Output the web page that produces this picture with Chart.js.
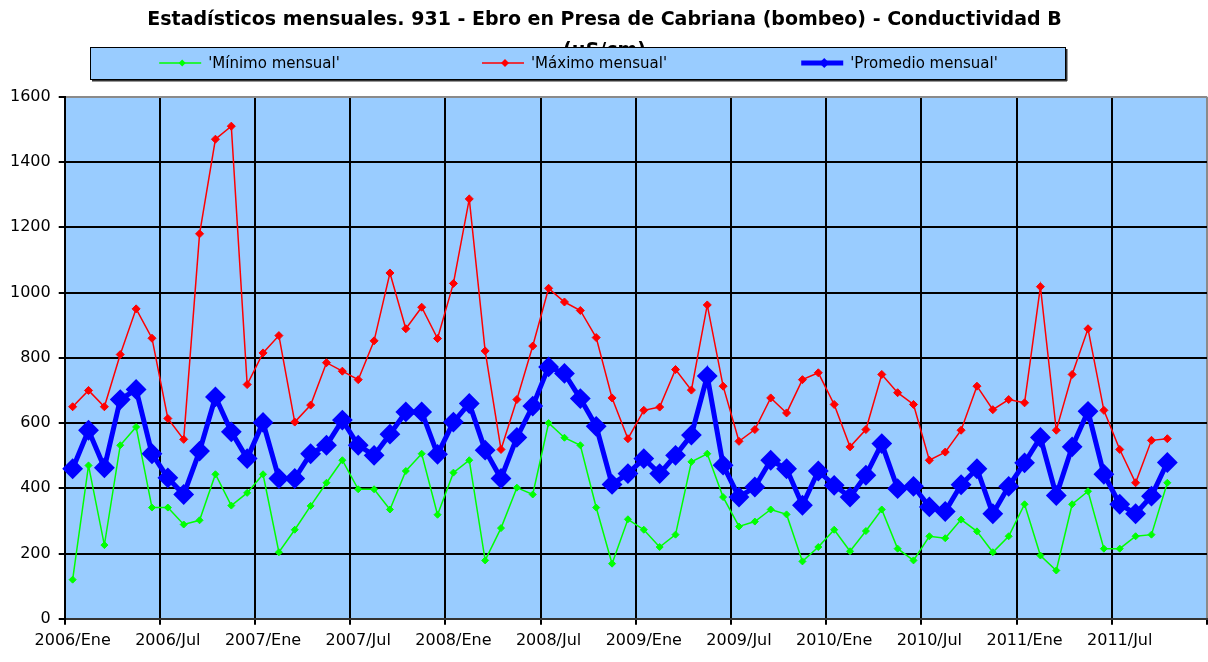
<!DOCTYPE html>
<html>
<head>
<meta charset="utf-8">
<script src="https://cdn.jsdelivr.net/npm/chart.js@4/dist/chart.umd.min.js"></script>
<style>
  html, body { margin: 0; padding: 0; background: #ffffff; }
  canvas { display: block; }
</style>
</head>
<body>
<canvas id="c" width="1208" height="662"></canvas>
<script>
const categories = [
  '2006/Ene','2006/Feb','2006/Mar','2006/Abr','2006/May','2006/Jun','2006/Jul','2006/Ago','2006/Sep','2006/Oct','2006/Nov','2006/Dic',
  '2007/Ene','2007/Feb','2007/Mar','2007/Abr','2007/May','2007/Jun','2007/Jul','2007/Ago','2007/Sep','2007/Oct','2007/Nov','2007/Dic',
  '2008/Ene','2008/Feb','2008/Mar','2008/Abr','2008/May','2008/Jun','2008/Jul','2008/Ago','2008/Sep','2008/Oct','2008/Nov','2008/Dic',
  '2009/Ene','2009/Feb','2009/Mar','2009/Abr','2009/May','2009/Jun','2009/Jul','2009/Ago','2009/Sep','2009/Oct','2009/Nov','2009/Dic',
  '2010/Ene','2010/Feb','2010/Mar','2010/Abr','2010/May','2010/Jun','2010/Jul','2010/Ago','2010/Sep','2010/Oct','2010/Nov','2010/Dic',
  '2011/Ene','2011/Feb','2011/Mar','2011/Abr','2011/May','2011/Jun','2011/Jul','2011/Ago','2011/Sep','2011/Oct','2011/Nov','2011/Dic'
];

const xTickLabels = ['2006/Ene','2006/Jul','2007/Ene','2007/Jul','2008/Ene','2008/Jul','2009/Ene','2009/Jul','2010/Ene','2010/Jul','2011/Ene','2011/Jul'];

const seriesNames = ["'Mínimo mensual'", "'Máximo mensual'", "'Promedio mensual'"];

const minimo = [
  120, 470, 226, 532, 588, 341, 341, 289, 302, 443, 347, 386,
  443, 204, 273, 346, 417, 486, 397, 397, 335, 453, 506, 319,
  448, 486, 179, 278, 402, 381, 600, 555, 532, 341, 169, 305,
  273, 220, 258, 481, 506, 373, 283, 298, 335, 320, 176, 220,
  273, 207, 269, 335, 215, 179, 253, 247, 304, 268, 204, 253,
  351, 194, 148, 351, 391, 215, 215, 253, 258, 417
];

const maximo = [
  650, 700, 650, 810, 950, 860, 614, 550, 1180, 1470, 1510, 718,
  815, 868, 603, 655, 785, 759, 733, 852, 1060, 889, 955, 859,
  1028, 1287, 821, 519, 672, 836, 1013, 971, 945, 862, 677, 552,
  639, 649, 764, 701, 962, 713, 544, 580, 677, 631, 733, 754,
  657, 527, 580, 749, 693, 657, 486, 511, 578, 713, 641, 672,
  662, 1018, 578, 749, 889, 639, 519, 417, 547, 552
];

const promedio = [
  460, 578, 463, 672, 703, 506, 432, 381, 514, 680, 573, 491,
  602, 430, 430, 506, 532, 609, 532, 501, 566, 634, 634, 504,
  603, 660, 517, 430, 556, 652, 772, 752, 675, 590, 412, 445,
  491, 445, 501, 563, 744, 471, 373, 404, 486, 460, 348, 453,
  409, 373, 440, 537, 399, 406, 343, 329, 411, 460, 322, 406,
  478, 556, 378, 527, 636, 443, 351, 322, 376, 479
];

const yMin = 0, yMax = 1600, yStep = 200;

const FONT = "'DejaVu Sans', 'Liberation Sans', sans-serif";

const plotBackground = {
  id: 'plotBackground',
  beforeDraw(chart) {
    const a = chart.chartArea;
    const ctx = chart.ctx;
    ctx.save();
    ctx.fillStyle = '#99CCFF';
    ctx.fillRect(a.left, a.top, a.right - a.left, a.bottom - a.top);
    ctx.restore();
  }
};

const excelLegend = {
  id: 'excelLegend',
  afterDraw(chart) {
    const ctx = chart.ctx;
    const bx = 90, by = 47, bw = 975, bh = 32;
    ctx.save();
    ctx.fillStyle = '#99CCFF';
    ctx.fillRect(bx, by, bw, bh);
    ctx.strokeStyle = '#000';
    ctx.lineWidth = 1;
    ctx.strokeRect(bx + 0.5, by + 0.5, bw, bh);
    ctx.fillStyle = '#333';
    ctx.fillRect(bx + 2, by + bh + 1, bw, 1.5);
    ctx.fillRect(bx + bw + 1, by + 2, 1.5, bh);
    ctx.font = '15px ' + FONT;
    ctx.textBaseline = 'middle';
    const colW = bw / chart.data.datasets.length;
    const cy = by + bh / 2;
    chart.data.datasets.forEach((ds, i) => {
      const lineLen = 42, gap = 7;
      const tw = ctx.measureText(ds.label).width;
      const itemW = lineLen + gap + tw;
      const x0 = bx + colW * i + (colW - itemW) / 2 - 3;
      ctx.strokeStyle = ds.borderColor;
      ctx.lineWidth = ds.borderWidth;
      ctx.beginPath();
      ctx.moveTo(x0, cy);
      ctx.lineTo(x0 + lineLen, cy);
      ctx.stroke();
      ctx.fillStyle = ds.borderColor;
      ctx.beginPath();
      const r = ds.legendMarker;
      const mx = x0 + lineLen / 2 + 2;
      ctx.moveTo(mx, cy - r); ctx.lineTo(mx + r, cy); ctx.lineTo(mx, cy + r); ctx.lineTo(mx - r, cy); ctx.closePath();
      ctx.fill();
      ctx.fillStyle = '#000';
      ctx.textAlign = 'left';
      ctx.fillText(ds.label, x0 + lineLen + gap, cy + 1);
    });
    ctx.restore();
  }
};

new Chart(document.getElementById('c'), {
  type: 'line',
  data: {
    labels: categories,
    datasets: [
      {
        label: seriesNames[0], data: minimo, order: 3,
        borderColor: '#00FF00', backgroundColor: '#00FF00', borderWidth: 1.5,
        pointStyle: 'rectRot', pointRadius: 3.5, pointBorderWidth: 1,
        pointBackgroundColor: '#00FF00', pointBorderColor: '#00FF00',
        tension: 0, fill: false, legendMarker: 3.5
      },
      {
        label: seriesNames[1], data: maximo, order: 2,
        borderColor: '#FF0000', backgroundColor: '#FF0000', borderWidth: 1.5,
        pointStyle: 'rectRot', pointRadius: 4, pointBorderWidth: 1,
        pointBackgroundColor: '#FF0000', pointBorderColor: '#FF0000',
        tension: 0, fill: false, legendMarker: 4
      },
      {
        label: seriesNames[2], data: promedio, order: 1,
        borderColor: '#0000FF', backgroundColor: '#0000FF', borderWidth: 5,
        pointStyle: 'rectRot', pointRadius: 9, pointBorderWidth: 2,
        pointBackgroundColor: '#0000FF', pointBorderColor: '#0000FF',
        tension: 0, fill: false, legendMarker: 5
      }
    ]
  },
  options: {
    responsive: false,
    animation: false,
    devicePixelRatio: 1,
    layout: { autoPadding: false, padding: { left: 2, right: 1, top: 0, bottom: 6 } },
    plugins: {
      legend: { display: false },
      tooltip: { enabled: false },
      title: {
        display: true,
        text: ['Estadísticos mensuales. 931 - Ebro en Presa de Cabriana (bombeo) - Conductividad B', '(µS/cm)'],
        color: '#000',
        font: { family: FONT, size: 19, weight: 'bold', lineHeight: 1.6 },
        padding: { top: 5, bottom: 31 }
      }
    },
    scales: {
      x: {
        type: 'category',
        offset: true,
        afterFit(scale) { scale.paddingRight = 0; },
        grid: {
          offset: true,
          drawOnChartArea: true,
          drawTicks: true,
          tickLength: 6,
          lineWidth: 2,
          color: (c) => (c.index === undefined ? '#8a8a8a' : (c.index % 6 === 0 ? '#000' : 'rgba(0,0,0,0)')),
          tickColor: (c) => (c.index === undefined || c.index % 6 === 0 ? '#000' : 'rgba(0,0,0,0)')
        },
        border: { display: true, color: '#333', width: 2 },
        ticks: {
          autoSkip: false,
          maxRotation: 0,
          minRotation: 0,
          padding: 6,
          color: '#000',
          font: { family: FONT, size: 16 },
          callback: function (value, index) {
            const lab = categories[index];
            return xTickLabels.includes(lab) ? lab : '';
          }
        }
      },
      y: {
        min: yMin,
        max: yMax,
        grid: {
          drawTicks: true,
          tickLength: 6,
          lineWidth: 2,
          color: (c) => (c.tick && c.tick.value === yMax ? '#8a8a8a' : '#000'),
          tickColor: '#000'
        },
        border: { display: true, color: '#000', width: 2 },
        ticks: {
          stepSize: yStep,
          padding: 8,
          color: '#000',
          font: { family: FONT, size: 16 },
          callback: (v) => String(v)
        }
      }
    }
  },
  plugins: [plotBackground, excelLegend]
});
</script>
</body>
</html>
